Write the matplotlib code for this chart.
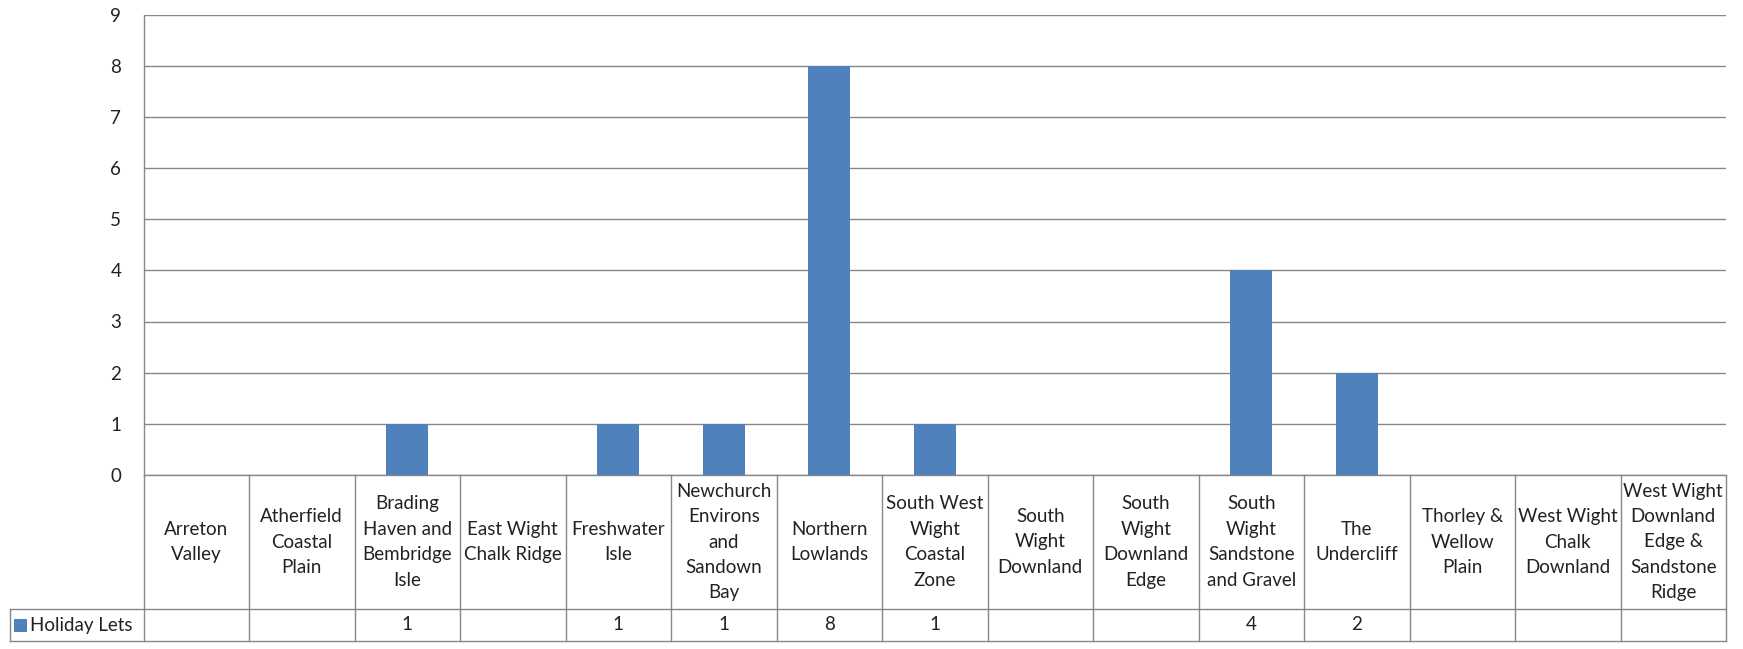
import numpy as np
import matplotlib
matplotlib.use("Agg")
import matplotlib.pyplot as plt
import matplotlib.transforms as mtransforms
from matplotlib.patches import Rectangle

# ── Data ──────────────────────────────────────────────────────────────────────

areas = [
    "Arreton\nValley",
    "Atherfield\nCoastal\nPlain",
    "Brading\nHaven and\nBembridge\nIsle",
    "East Wight\nChalk Ridge",
    "Freshwater\nIsle",
    "Newchurch\nEnvirons\nand\nSandown\nBay",
    "Northern\nLowlands",
    "South West\nWight\nCoastal\nZone",
    "South\nWight\nDownland",
    "South\nWight\nDownland\nEdge",
    "South\nWight\nSandstone\nand Gravel",
    "The\nUndercliff",
    "Thorley &\nWellow\nPlain",
    "West Wight\nChalk\nDownland",
    "West Wight\nDownland\nEdge &\nSandstone\nRidge",
]
holiday_lets = [np.nan, np.nan, 1, np.nan, 1, 1, 8, 1, np.nan, np.nan, 4, 2,
                np.nan, np.nan, np.nan]
series_name = "Holiday Lets"
y_ticks = list(range(0, 10))

# ── Style ─────────────────────────────────────────────────────────────────────

BAR_COLOR = "#4F81BD"
GRID_COLOR = "#878787"
TEXT_COLOR = "#222222"
FONT = "Lato"
FS = 13.5

W, H = 1743, 649
fig = plt.figure(figsize=(W / 100, H / 100), dpi=100)
fig.patch.set_facecolor("white")

# plot area in pixels: left, right, top (y=9), bottom (y=0)
px_l, px_r, px_t, px_b = 143.5, 1726, 14.5, 475
ax = fig.add_axes([px_l / W, 1 - px_b / H, (px_r - px_l) / W, (px_b - px_t) / H])

n = len(areas)
x = np.arange(n)
vals = np.array(holiday_lets, dtype=float)
mask = ~np.isnan(vals)
ax.bar(x[mask], vals[mask], width=0.4, color=BAR_COLOR, zorder=3)

ax.set_xlim(-0.5, n - 0.5)
ax.set_ylim(0, 9)
ax.set_yticks(y_ticks)
ax.set_yticklabels([str(t) for t in y_ticks], fontsize=FS, family=FONT,
                   color=TEXT_COLOR)
ax.tick_params(axis="y", length=0, pad=16)
ax.set_xticks([])
ax.grid(axis="y", color=GRID_COLOR, linewidth=1.0, zorder=0)
for side in ["top", "right", "bottom"]:
    ax.spines[side].set_visible(False)
ax.spines["left"].set_color(GRID_COLOR)
ax.spines["left"].set_linewidth(1.0)

# ── Data table under the plot ────────────────────────────────────────────────

plot_h = px_b - px_t
row1 = -(609 - px_b) / plot_h   # bottom of category header row (axes frac)
row2 = -(641 - px_b) / plot_h   # bottom of values row
per_px = n / (px_r - px_l)
legend_left = -0.5 - (px_l - 10) * per_px

trans = mtransforms.blended_transform_factory(ax.transData, ax.transAxes)
line_kw = dict(color=GRID_COLOR, linewidth=1.0, transform=trans,
               clip_on=False)

# horizontal rules
ax.plot([-0.5, n - 0.5], [0, 0], **line_kw)
ax.plot([legend_left, n - 0.5], [row1, row1], **line_kw)
ax.plot([legend_left, n - 0.5], [row2, row2], **line_kw)
# vertical rules
for b in np.arange(n + 1) - 0.5:
    ax.plot([b, b], [0, row2], **line_kw)
ax.plot([legend_left, legend_left], [row1, row2], **line_kw)

for i, (name, v) in enumerate(zip(areas, holiday_lets)):
    ax.text(i, row1 / 2, name, transform=trans, ha="center", va="center",
            fontsize=FS, family=FONT, color=TEXT_COLOR, linespacing=1.6)
    if not np.isnan(v):
        ax.text(i, (row1 + row2) / 2, f"{int(v)}", transform=trans,
                ha="center", va="center", fontsize=FS, family=FONT,
                color=TEXT_COLOR)

# legend key in the first column
key_w = 13 * per_px
key_x = legend_left + 4 * per_px
key_h = 13 / plot_h
ymid = (row1 + row2) / 2
ax.add_patch(Rectangle((key_x, ymid - key_h / 2), key_w, key_h,
                       transform=trans, facecolor=BAR_COLOR, clip_on=False))
ax.text(key_x + key_w + 3 * per_px, ymid, series_name, transform=trans,
        ha="left", va="center", fontsize=FS, family=FONT, color=TEXT_COLOR)

fig.savefig("out.png", dpi=100, facecolor="white")
